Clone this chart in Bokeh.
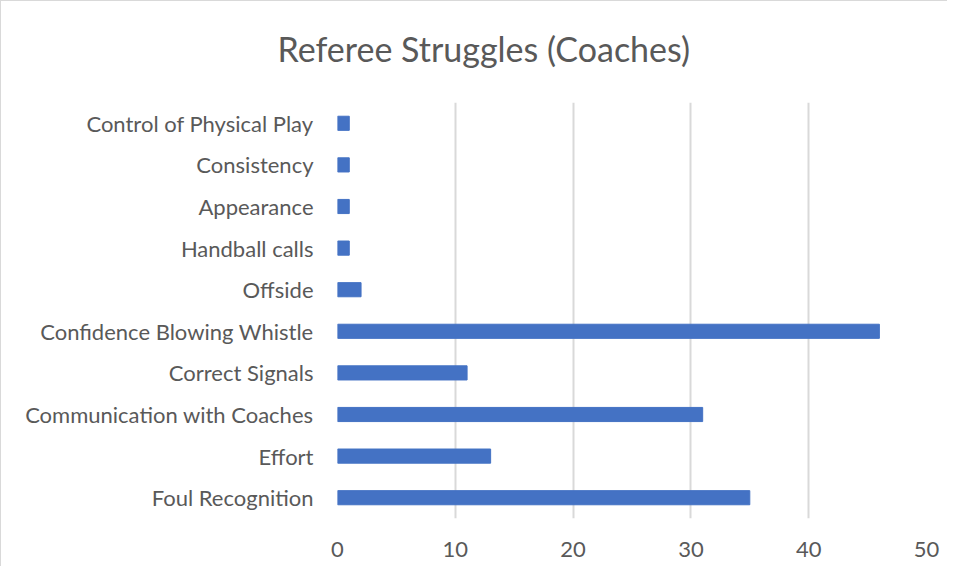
from bokeh.plotting import figure
from bokeh.models import FactorRange, Range1d, FixedTicker, Title
from bokeh.embed import file_html
from bokeh.resources import INLINE

categories = ["Foul Recognition", "Effort", "Communication with Coaches", "Correct Signals",
              "Confidence Blowing Whistle", "Offside", "Handball calls", "Appearance",
              "Consistency", "Control of Physical Play"]
values = [35, 13, 31, 11, 46, 2, 1, 1, 1, 1]
x_ticks = [0, 10, 20, 30, 40, 50]
title_text = "Referee Struggles (Coaches)"

FONT = "Lato"
GRAY = "#595959"

p = figure(width=947, height=566, output_backend="svg", toolbar_location=None,
           y_range=FactorRange(factors=categories), x_range=Range1d(0, 50),
           min_border_left=336, min_border_right=22, min_border_top=101, min_border_bottom=49,
           title=title_text)

p.hbar(y=categories, right=values, left=0, height=0.34, color="#4472c4")

p.title.align = "left"
p.title.offset = -60
p.title.standoff = 48
p.title.text_font = FONT
p.title.text_font_size = "34px"
p.title.text_font_style = "normal"
p.title.text_color = GRAY

# empty spacer between the title and the plot area
p.add_layout(Title(text=" ", text_font_size="1px", standoff=7), "above")

p.xaxis.ticker = FixedTicker(ticks=x_ticks)
p.xaxis.axis_line_color = None
p.xaxis.major_tick_line_color = None
p.xaxis.minor_tick_line_color = None
p.xaxis.major_label_text_font = FONT
p.xaxis.major_label_text_font_size = "22px"
p.xaxis.major_label_text_color = GRAY
p.xaxis.major_label_standoff = 17

p.yaxis.axis_line_color = None
p.yaxis.major_tick_line_color = None
p.yaxis.minor_tick_line_color = None
p.yaxis.major_label_text_font = FONT
p.yaxis.major_label_text_font_size = "22px"
p.yaxis.major_label_text_color = GRAY
p.yaxis.major_label_standoff = 18

p.xgrid.grid_line_color = "#d9d9d9"
p.xgrid.grid_line_width = 2
p.ygrid.grid_line_color = None
p.outline_line_color = None

p.styles = {"border-left": "1px solid #d9d9d9", "border-top": "1px solid #d9d9d9"}

open("out.html", "w").write(file_html(p, INLINE))
